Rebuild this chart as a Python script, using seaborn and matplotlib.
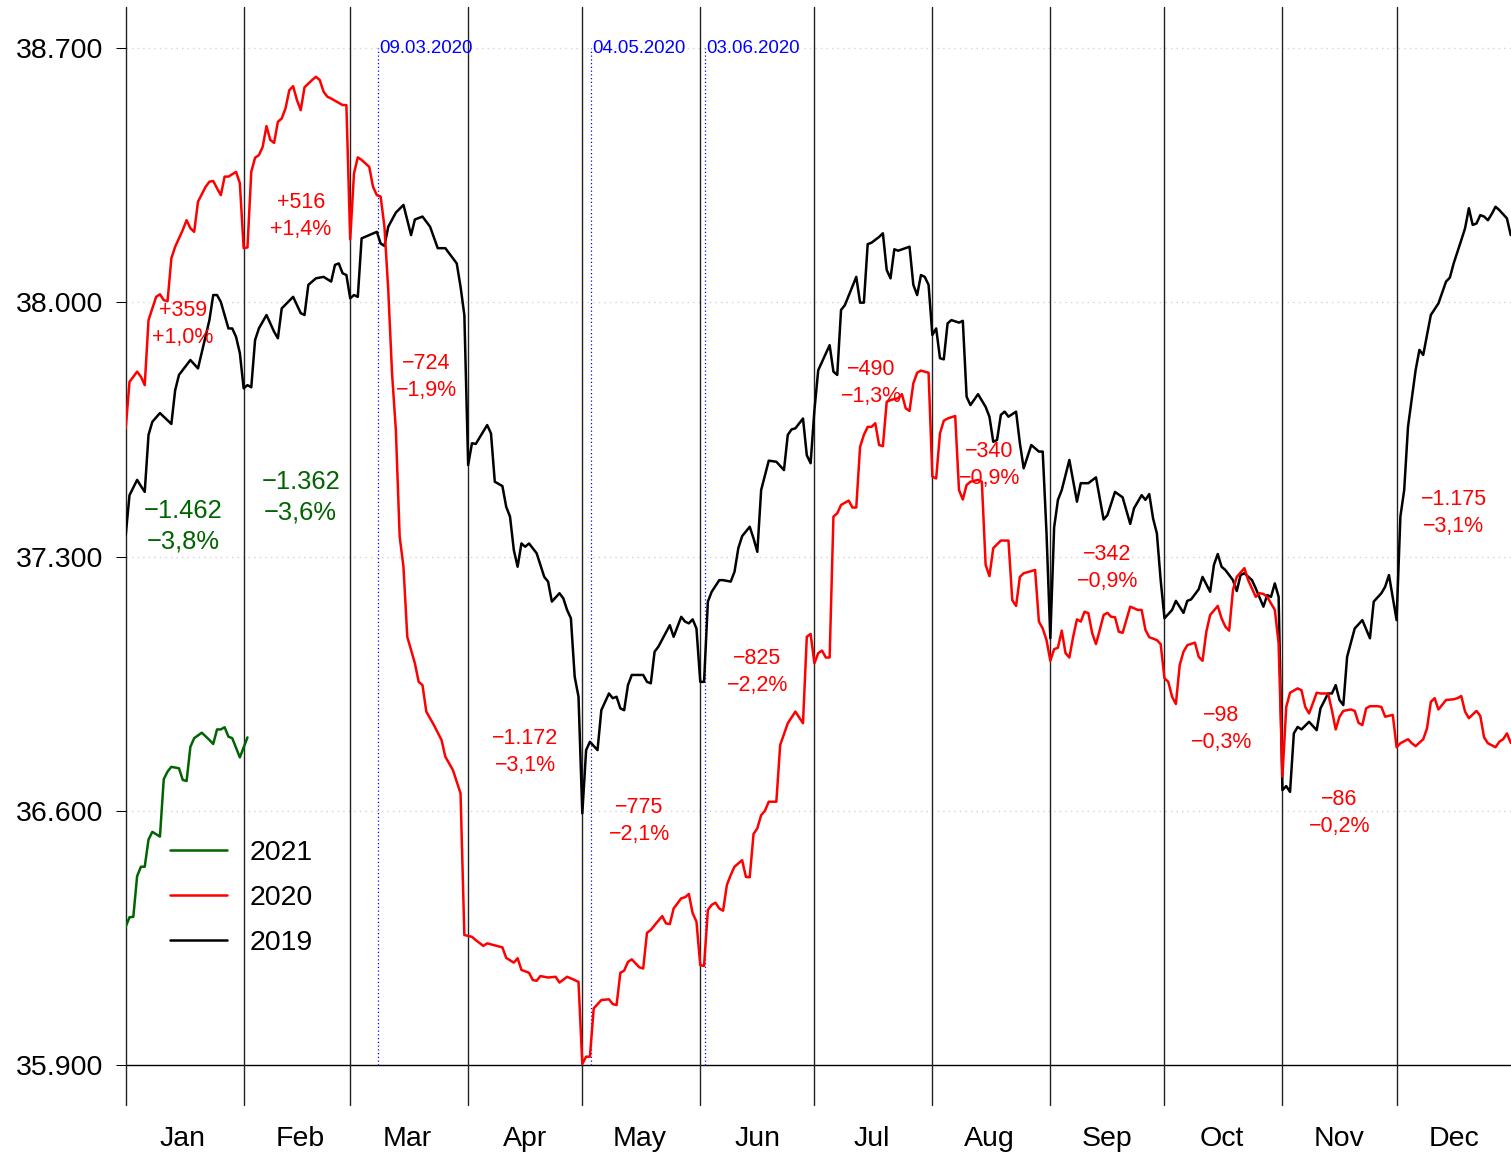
import matplotlib
matplotlib.use("Agg")
import matplotlib.pyplot as plt
from matplotlib.lines import Line2D
import pandas as pd
import seaborn as sns

# day of year / value
days_2019 = [1, 2, 4, 5, 6, 7, 8, 10, 13, 14, 15, 18, 20, 23, 24, 25, 26, 28, 29, 30, 31, 32, 33, 34, 35, 36, 38, 40, 41, 42,
             45, 47, 48, 49, 51, 53, 55, 56, 57, 58, 59, 60, 61, 62, 63, 67, 68, 69, 70, 72, 74, 76, 77, 79, 81, 83, 85, 88, 89, 90,
             91, 92, 93, 96, 97, 98, 100, 101, 102, 103, 104, 105, 106, 107, 109, 111, 112, 113, 115, 116, 117, 118, 119, 120,
             121, 122, 123, 125, 126, 128, 129, 130, 131, 132, 133, 134, 137, 138, 139, 140, 141, 144, 145, 147, 148, 149, 150,
             151, 152, 153, 154, 155, 157, 158, 160, 161, 162, 163, 165, 166, 167, 168, 169, 170, 172, 174, 175, 176, 177, 179,
             180, 181, 182, 183, 186, 187, 188, 189, 190, 193, 194, 195, 196, 197, 199, 200, 201, 202, 203, 204, 207, 208, 209,
             210, 211, 212, 213, 214, 215, 216, 217, 218, 220, 221, 222, 223, 225, 227, 228, 229, 230, 231, 232, 233, 235, 236,
             237, 239, 240, 241, 242, 243, 244, 245, 246, 247, 249, 251, 252, 254, 256, 258, 259, 261, 263, 265, 266, 268, 269,
             270, 271, 272, 273, 274, 276, 277, 279, 280, 281, 283, 284, 286, 287, 288, 289, 290, 292, 293, 294, 295, 297, 298,
             300, 301, 302, 303, 304, 305, 306, 307, 308, 309, 310, 312, 314, 315, 317, 318, 319, 320, 321, 322, 324, 326, 328,
             329, 331, 332, 333, 335, 336, 337, 338, 340, 341, 342, 343, 344, 346, 348, 349, 350, 352, 353, 354, 355, 356, 357,
             358, 359, 360, 361, 362, 364, 365]
vals_2019 = [37359, 37469, 37511, 37494, 37478, 37635, 37671, 37695, 37665, 37758, 37800, 37841, 37818, 37951, 38020, 38020,
             38001, 37928, 37928, 37905, 37860, 37763, 37772, 37766, 37896, 37928, 37965, 37919, 37901, 37983, 38015, 37970,
             37965, 38048, 38066, 38070, 38057, 38103, 38107, 38080, 38075, 38011, 38020, 38015, 38176, 38194, 38162, 38155,
             38208, 38247, 38268, 38185, 38228, 38236, 38208, 38149, 38149, 38107, 38043, 37965, 37552, 37612, 37610, 37662,
             37639, 37506, 37494, 37437, 37410, 37318, 37272, 37336, 37327, 37336, 37309, 37244, 37231, 37176, 37199, 37185,
             37153, 37130, 36969, 36914, 36593, 36767, 36790, 36767, 36877, 36923, 36910, 36914, 36882, 36877, 36946, 36974,
             36974, 36955, 36951, 37038, 37052, 37111, 37079, 37134, 37121, 37116, 37127, 37102, 36955, 36955, 37176, 37203,
             37235, 37235, 37231, 37258, 37323, 37356, 37382, 37350, 37313, 37483, 37524, 37564, 37561, 37538, 37635, 37650,
             37653, 37680, 37579, 37557, 37703, 37813, 37882, 37809, 37800, 37979, 37992, 38070, 37999, 37999, 38160, 38164,
             38180, 38190, 38089, 38066, 38146, 38142, 38153, 38048, 38020, 38075, 38070, 38048, 37910, 37928, 37846, 37843,
             37942, 37951, 37944, 37949, 37740, 37717, 37747, 37712, 37685, 37616, 37621, 37690, 37699, 37685, 37699, 37612,
             37543, 37607, 37598, 37589, 37589, 37364, 37075, 37380, 37456, 37483, 37566, 37451, 37502, 37502, 37518, 37402,
             37414, 37478, 37463, 37390, 37433, 37469, 37456, 37472, 37405, 37364, 37235, 37130, 37153, 37178, 37145, 37178,
             37182, 37210, 37244, 37203, 37277, 37307, 37272, 37263, 37235, 37205, 37249, 37254, 37235, 37212, 37162, 37194,
             37189, 37226, 37189, 36657, 36668, 36652, 36813, 36831, 36824, 36845, 36822, 36882, 36923, 36923, 36946, 36905,
             36891, 37024, 37102, 37125, 37075, 37176, 37199, 37217, 37249, 37125, 37410, 37483, 37657, 37813, 37869, 37855,
             37910, 37965, 37997, 38057, 38068, 38107, 38171, 38204, 38259, 38213, 38217, 38240, 38236, 38226, 38243, 38263,
             38254, 38231, 38185]

days_2020 = [1, 2, 4, 5, 6, 7, 9, 10, 11, 12, 13, 14, 16, 17, 18, 19, 20, 22, 23, 24, 25, 26, 27, 28, 30, 31, 32, 33, 34, 35,
             36, 37, 38, 39, 40, 41, 42, 43, 44, 45, 46, 47, 48, 50, 51, 52, 53, 54, 55, 57, 58, 59, 60, 61, 62, 63, 65, 66, 67,
             68, 69, 70, 71, 72, 73, 74, 75, 77, 78, 79, 80, 82, 84, 85, 87, 88, 89, 90, 92, 93, 95, 96, 100, 101, 103, 104, 105,
             107, 108, 109, 110, 112, 114, 115, 117, 119, 120, 121, 122, 123, 124, 126, 128, 129, 130, 131, 132, 133, 134, 135,
             136, 137, 138, 139, 140, 142, 143, 144, 145, 147, 148, 149, 150, 151, 152, 153, 154, 155, 156, 157, 158, 159, 160,
             161, 163, 164, 165, 166, 167, 168, 169, 170, 172, 173, 175, 177, 179, 180, 181, 182, 183, 184, 185, 186, 187, 188,
             189, 191, 192, 193, 194, 195, 196, 197, 198, 199, 200, 201, 202, 204, 205, 206, 207, 208, 209, 210, 212, 213, 214,
             215, 216, 217, 219, 220, 221, 222, 223, 225, 226, 227, 228, 229, 231, 233, 234, 235, 236, 237, 240, 241, 242, 243,
             244, 245, 246, 247, 248, 249, 250, 251, 252, 253, 254, 255, 256, 257, 258, 259, 260, 261, 262, 263, 265, 267, 268,
             269, 270, 272, 273, 274, 275, 276, 277, 278, 279, 280, 282, 283, 284, 285, 286, 288, 289, 290, 291, 292, 293, 295,
             296, 298, 299, 300, 301, 303, 304, 305, 306, 307, 309, 310, 311, 312, 313, 314, 315, 317, 318, 319, 320, 321, 323,
             324, 325, 326, 327, 328, 330, 331, 332, 334, 335, 336, 338, 339, 340, 342, 343, 344, 345, 346, 348, 350, 351, 352,
             353, 354, 356, 357, 358, 359, 361, 362, 363, 364, 365]
vals_2020 = [37653, 37781, 37809, 37795, 37772, 37951, 38015, 38022, 38006, 38003, 38121, 38153, 38199, 38226, 38204, 38194,
             38277, 38318, 38332, 38334, 38314, 38295, 38346, 38346, 38359, 38328, 38149, 38151, 38359, 38398, 38405, 38428,
             38485, 38447, 38439, 38497, 38506, 38534, 38584, 38595, 38557, 38529, 38592, 38612, 38621, 38612, 38580, 38566,
             38561, 38549, 38543, 38543, 38173, 38355, 38399, 38392, 38373, 38318, 38295, 38291, 38208, 38034, 37804, 37648,
             37355, 37272, 37079, 37006, 36955, 36946, 36873, 36836, 36795, 36749, 36712, 36680, 36648, 36258, 36253, 36244,
             36228, 36235, 36224, 36195, 36182, 36194, 36162, 36154, 36134, 36132, 36145, 36141, 36143, 36127, 36143, 36134,
             36129, 35903, 35923, 35923, 36056, 36079, 36081, 36068, 36065, 36154, 36160, 36184, 36191, 36180, 36169, 36166,
             36264, 36272, 36285, 36310, 36290, 36288, 36331, 36359, 36362, 36371, 36318, 36295, 36175, 36173, 36327, 36341,
             36347, 36331, 36325, 36396, 36423, 36446, 36464, 36418, 36417, 36536, 36552, 36588, 36600, 36625, 36625, 36781,
             36841, 36873, 36841, 37079, 37087, 37006, 37034, 37041, 37022, 37022, 37410, 37419, 37442, 37454, 37435, 37435,
             37602, 37635, 37657, 37657, 37667, 37607, 37604, 37726, 37731, 37736, 37747, 37708, 37701, 37777, 37806, 37812,
             37806, 37520, 37515, 37639, 37674, 37680, 37687, 37483, 37457, 37497, 37506, 37511, 37506, 37277, 37246, 37323,
             37344, 37344, 37180, 37164, 37244, 37254, 37263, 37121, 37102, 37070, 37013, 37045, 37049, 37096, 37034, 37022,
             37079, 37127, 37121, 37148, 37144, 37089, 37059, 37098, 37139, 37145, 37134, 37133, 37093, 37090, 37162, 37153,
             37153, 37098, 37078, 37070, 37059, 36965, 36955, 36914, 36894, 37001, 37038, 37056, 37063, 37024, 37013, 37093,
             37139, 37164, 37130, 37107, 37096, 37208, 37244, 37268, 37235, 37189, 37199, 37197, 37189, 37153, 37061, 36694,
             36886, 36925, 36937, 36932, 36886, 36868, 36896, 36925, 36923, 36923, 36877, 36824, 36859, 36875, 36879, 36875,
             36842, 36836, 36882, 36888, 36888, 36886, 36859, 36864, 36775, 36786, 36797, 36786, 36778, 36797, 36827, 36900,
             36910, 36879, 36905, 36907, 36910, 36916, 36873, 36855, 36875, 36861, 36802, 36786, 36775, 36790, 36797, 36813,
             36787]

days_2021 = [1, 2, 3, 4, 5, 6, 7, 8, 10, 11, 12, 13, 15, 16, 17, 18, 19, 21, 23, 24, 25, 26, 27, 28, 29, 31, 33]
vals_2021 = [36281, 36307, 36308, 36420, 36446, 36446, 36521, 36542, 36529, 36687, 36708, 36721, 36717, 36685, 36682, 36776,
             36800, 36815, 36795, 36784, 36824, 36824, 36830, 36804, 36800, 36747, 36802]

years = ["2019", "2020", "2021"]
colors = {"2019": "black", "2020": "#FF0000", "2021": "#006400"}

months = ["Jan", "Feb", "Mar", "Apr", "May", "Jun", "Jul", "Aug", "Sep", "Oct", "Nov", "Dec"]
month_start = [1, 32, 60, 91, 121, 152, 182, 213, 244, 274, 305, 335]
y_ticks = [35900, 36600, 37300, 38000, 38700]

events = ["09.03.2020", "04.05.2020", "03.06.2020"]

# monthly differences 2020 vs 2019 (red) and 2021 vs 2020 (green)
diff_2020_abs = ["+359", "+516", "\u2212724", "\u22121.172", "\u2212775", "\u2212825",
                 "\u2212490", "\u2212340", "\u2212342", "\u221298", "\u221286", "\u22121.175"]
diff_2020_pct = ["+1,0%", "+1,4%", "\u22121,9%", "\u22123,1%", "\u22122,1%", "\u22122,2%",
                 "\u22121,3%", "\u22120,9%", "\u22120,9%", "\u22120,3%", "\u22120,2%", "\u22123,1%"]
diff_2020_day = [16, 47, 80, 106, 136, 167, 197, 228, 259, 289, 320, 350]
diff_2020_y = [37940, 38237, 37794, 36761, 36572, 36982, 37777, 37552, 37268, 36825, 36594, 37420]
diff_2021_abs = ["\u22121.462", "\u22121.362"]
diff_2021_pct = ["\u22123,8%", "\u22123,6%"]
diff_2021_day = [16, 47]
diff_2021_y = [37383, 37463]

sns.set_style("white")
plt.rcParams["font.family"] = ["Liberation Sans", "DejaVu Sans"]
plt.rcParams["text.color"] = "black"
plt.rcParams["xtick.color"] = "black"
plt.rcParams["ytick.color"] = "black"

df = pd.concat([
    pd.DataFrame({"day": days_2019, "value": vals_2019, "year": "2019"}),
    pd.DataFrame({"day": days_2020, "value": vals_2020, "year": "2020"}),
    pd.DataFrame({"day": days_2021, "value": vals_2021, "year": "2021"}),
], ignore_index=True)

W, H = 1511, 1154
fig = plt.figure(figsize=(W / 100, H / 100), dpi=100)
ax = fig.add_axes([125.7 / W, (H - 1105) / H, (W - 125.7) / W, (1105 - 7) / H])

# grid + base line
for v in y_ticks[1:]:
    ax.axhline(v, color="#D3D3D3", lw=1.0, ls=(0, (1, 3)), zorder=0)
ax.axhline(y_ticks[0], color="black", lw=1.0, zorder=1)

# month separators
for m in month_start:
    ax.axvline(m, color="#222222", lw=1.0, zorder=1, clip_on=False)

# event markers
event_days = [pd.to_datetime(e, format="%d.%m.%Y").replace(year=2019).dayofyear - 0.7 for e in events]
for e, d in zip(events, event_days):
    ax.plot([d, d], [y_ticks[0], y_ticks[-1]], color="blue", lw=0.9, ls=(0, (1, 2)), zorder=1)
    ax.text(d + 0.4, y_ticks[-1], e, color="blue", fontsize=13.4, ha="left", va="center")

sns.lineplot(data=df, x="day", y="value", hue="year", hue_order=years, palette=colors,
             estimator=None, lw=1.8, legend=False, ax=ax, zorder=3)

for x, a, p, y in zip(diff_2020_day, diff_2020_abs, diff_2020_pct, diff_2020_y):
    ax.text(x, y, a + "\n" + p, color="#FF0000", fontsize=15.5, ha="center", va="center",
            linespacing=1.36, zorder=4)
for x, a, p, y in zip(diff_2021_day, diff_2021_abs, diff_2021_pct, diff_2021_y):
    ax.text(x, y, a + "\n" + p, color="#006400", fontsize=18.4, ha="center", va="center",
            linespacing=1.33, zorder=4)

ax.set_xlim(1, 365.07)
ax.set_ylim(35790, 38813)
ax.set_yticks(y_ticks)
ax.set_yticklabels([f"{v:,}".replace(",", ".") for v in y_ticks])
ax.set_xticks([m + 15 for m in month_start])
ax.set_xticklabels(months)
ax.tick_params(axis="y", length=7.2, width=0.75, pad=8.6, labelsize=20.5, color="black",
               labelcolor="black", left=True)
ax.tick_params(axis="x", length=0, pad=15, labelsize=20.5, labelcolor="black")
ax.set_xlabel("")
ax.set_ylabel("")
for s in ax.spines.values():
    s.set_visible(False)

handles = [Line2D([], [], color=colors[y], lw=1.8) for y in ["2021", "2020", "2019"]]
ax.legend(handles, ["2021", "2020", "2019"], loc="center left",
          bbox_to_anchor=(170 / W, 1 - 898 / H), bbox_transform=fig.transFigure,
          frameon=False, fontsize=20.5, handlelength=2.0, handletextpad=0.8,
          labelspacing=0.66, borderpad=0, borderaxespad=0, labelcolor="black")

fig.savefig("out.png", dpi=100)
plt.close(fig)
